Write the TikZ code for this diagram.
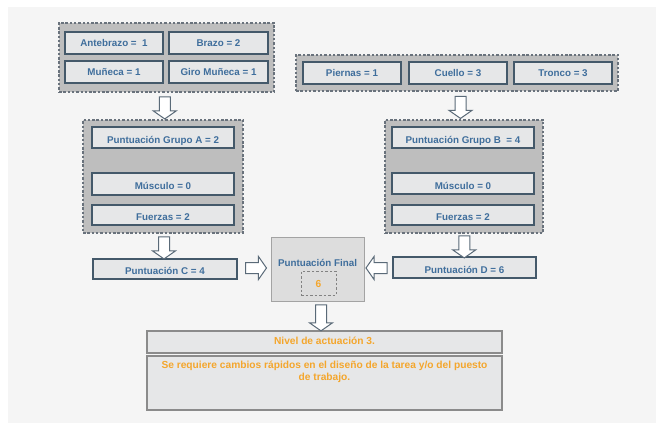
\documentclass[tikz,border=0pt]{standalone}
\usepackage{fontspec}
\setmainfont{Liberation Sans}
\usetikzlibrary{positioning,fit,calc,shapes.arrows}
\definecolor{bgc}{HTML}{F5F5F5}
\definecolor{grpfill}{HTML}{BEBEBE}
\definecolor{grpdraw}{HTML}{69727C}
\definecolor{boxfill}{HTML}{E6E7E8}
\definecolor{boxdraw}{HTML}{44596A}
\definecolor{txtblue}{HTML}{3F6E9C}
\definecolor{orangetxt}{HTML}{F4A62C}
\definecolor{finfill}{HTML}{DDDDDD}
\definecolor{findraw}{HTML}{A3A3A3}
\definecolor{arrdraw}{HTML}{5A6A78}
\tikzset{
  grp/.style={draw=grpdraw, fill=grpfill, dashed, dash pattern=on 2.5pt off 1.8pt, line width=1.3pt, inner sep=0pt},
  ibox/.style={draw=boxdraw, fill=boxfill, line width=1.3pt, inner sep=0pt, text=txtblue, font=\bfseries\fontsize{9.8}{11}\selectfont},
  lowtxt/.style={text height=11pt, text depth=0pt},
  finbox/.style={draw=findraw, fill=finfill, line width=1pt, inner sep=0pt},
  resbox/.style={draw=findraw!85!black, fill=boxfill, line width=1.2pt, inner sep=0pt},
  orangelbl/.style={text=orangetxt, font=\bfseries\fontsize{10.2}{12}\selectfont},
  barrow/.style={single arrow, draw=arrdraw, fill=white, line width=1pt, inner xsep=0pt, inner ysep=5pt,
     single arrow head extend=6pt, single arrow tip angle=110, minimum height=22pt, minimum width=22pt}
}
\begin{document}
\begin{tikzpicture}[x=1pt,y=-1pt]
\useasboundingbox (0,0) rectangle (656,423);
\fill[white] (0,0) rectangle (656,423);
\fill[bgc] (8,7) rectangle (656,423);

% group 1
\node[grp, fit={(59,23) (274,92)}] (g1) {};
\node[ibox, minimum width=98pt, minimum height=22pt] (ante) at (114,43) {Antebrazo =~~1};
\node[ibox, minimum width=99pt, minimum height=22pt] (brazo) at (218.5,43) {Brazo = 2};
\node[ibox, minimum width=98pt, minimum height=22pt] (muneca) at (114,72) {Muñeca = 1};
\node[ibox, minimum width=99pt, minimum height=22pt] (giro) at (218.5,72) {Giro Muñeca = 1};

% group 2
\node[grp, fit={(296,55) (618,91)}] (g2) {};
\node[ibox, minimum width=98pt, minimum height=22pt] (piernas) at (352,73) {Piernas = 1};
\node[ibox, minimum width=98pt, minimum height=22pt] (cuello) at (458,73) {Cuello = 3};
\node[ibox, minimum width=98pt, minimum height=22pt] (tronco) at (563,73) {Tronco = 3};

% group A
\node[grp, fit={(83,120) (243,233)}] (ga) {};
\node[ibox, lowtxt, minimum width=142pt, minimum height=21pt] (pga) at (163,137.5) {Puntuación Grupo A = 2};
\node[ibox, lowtxt, minimum width=142pt, minimum height=22pt] (musa) at (163,184) {Músculo = 0};
\node[ibox, lowtxt, minimum width=142pt, minimum height=20pt] (fuea) at (163,215) {Fuerzas = 2};

% group B
\node[grp, fit={(385,120) (543,233)}] (gb) {};
\node[ibox, lowtxt, minimum width=142pt, minimum height=21pt] (pgb) at (463,137.5) {Puntuación Grupo B~~= 4};
\node[ibox, lowtxt, minimum width=142pt, minimum height=21pt] (musb) at (463,183.5) {Músculo = 0};
\node[ibox, lowtxt, minimum width=142pt, minimum height=20pt] (fueb) at (463,215) {Fuerzas = 2};

% C and D
\node[ibox, lowtxt, minimum width=144pt, minimum height=20pt] (pc) at (165,269) {Puntuación C = 4};
\node[ibox, lowtxt, minimum width=143pt, minimum height=21pt] (pd) at (464.5,267.5) {Puntuación D = 6};

% final
\node[finbox, fit={(271,237) (364,301)}] (fin) {};
\node[text=txtblue, font=\bfseries\fontsize{9.8}{11}\selectfont] (fintitle) at (317.5,263) {Puntuación Final};
\node[draw=findraw!80!black, dashed, dash pattern=on 2.5pt off 2pt, line width=0.9pt, inner sep=0pt, fit={(301,271) (336,295)}] (finin) {};
\node[orangelbl] (six) at ($(finin.center)+(0,1)$) {6};

% result
\node[resbox, fit={(147,331) (502,353)}] (nivel) {};
\node[orangelbl] (niveltxt) at (324.5,341) {Nivel de actuación 3.};
\node[resbox, fit={(147,356) (502,410)}] (big) {};
\node[orangelbl, align=center, anchor=north, inner sep=0pt] (bigtxt) at (324.5,361) {Se requiere cambios rápidos en el diseño de la tarea y/o del puesto\\de trabajo.};

% arrows
\node[barrow, rotate=-90] (a1) at ($(g1.south)!0.5!(ga.north)$) {};
\node[barrow, rotate=-90] (a2) at ($(g2.south)!0.5!(gb.north)$) {};
\node[barrow, rotate=-90] (a3) at ($(ga.south)!0.5!(pc.north)$) {};
\node[barrow, rotate=-90] (a4) at ($(gb.south)!0.5!(pd.north)$) {};
\node[barrow, minimum height=21pt] (a5) at ($(pc.east |- fin.west)!0.5!(fin.west) + (0,-1)$) {};
\node[barrow, rotate=180, minimum height=21pt] (a6) at ($(pd.west |- fin.east)!0.5!(fin.east) + (0,-1)$) {};
\node[barrow, rotate=-90, minimum height=26pt] (a7) at ($(fin.south)!0.5!(nivel.north)$) {};
\end{tikzpicture}
\end{document}
